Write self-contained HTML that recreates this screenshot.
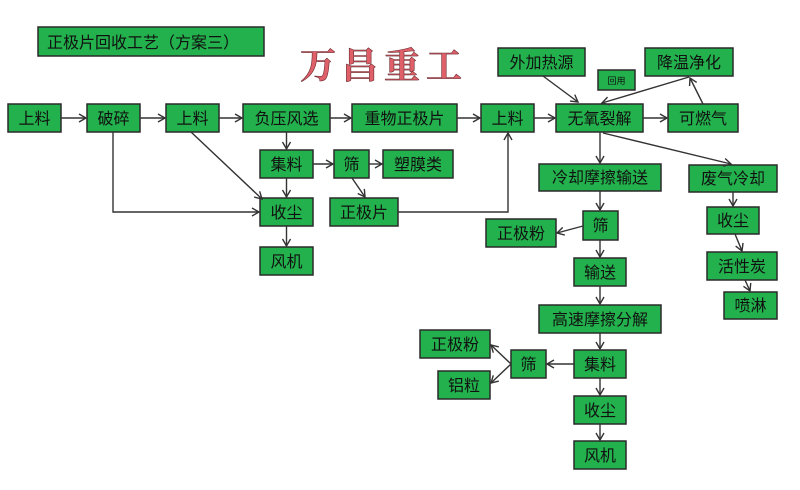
<!DOCTYPE html>
<html><head><meta charset="utf-8"><style>
html,body{margin:0;padding:0;background:#fff;}
svg{display:block;}
text{font-family:"Liberation Sans","Noto Sans CJK SC",sans-serif;fill:#111;}
.b{fill:#22b14c;stroke:#2a2a2a;stroke-width:1.5;}
.l{stroke:#333;stroke-width:1.4;fill:none;marker-end:url(#a);}
</style></head><body>
<svg width="800" height="490" viewBox="0 0 800 490" xmlns="http://www.w3.org/2000/svg">
<defs>
<marker id="a" markerWidth="10" markerHeight="10" refX="8" refY="5" orient="auto" markerUnits="userSpaceOnUse">
<path d="M1,1 L8,5 L1,9" fill="none" stroke="#333" stroke-width="1.4"/>
</marker>
</defs>
<rect width="800" height="490" fill="#fff"/>
<rect class="b" x="38" y="27" width="226" height="29"/>
<text x="47" y="48" font-size="16">正极片回收工艺（方案三）</text>
<text x="300" y="78" font-size="36" font-weight="bold" letter-spacing="6" style="font-family:'Noto Serif CJK SC',serif;fill:#e0606a;stroke:#6a2a30;stroke-width:0.6;">万昌重工</text>

<g font-size="16" text-anchor="middle">
<rect class="b" x="8" y="104" width="53" height="28"/><text x="34.5" y="124">上料</text>
<rect class="b" x="87" y="104" width="53" height="28"/><text x="113.5" y="124">破碎</text>
<rect class="b" x="166" y="104" width="53" height="28"/><text x="192.5" y="124">上料</text>
<rect class="b" x="243" y="104" width="87" height="28"/><text x="286.5" y="124">负压风选</text>
<rect class="b" x="352" y="104" width="105" height="28"/><text x="404.5" y="124">重物正极片</text>
<rect class="b" x="260" y="150" width="53" height="28"/><text x="286.5" y="170">集料</text>
<rect class="b" x="334" y="150" width="35" height="28"/><text x="351.5" y="170">筛</text>
<rect class="b" x="383" y="150" width="70" height="28"/><text x="418" y="170">塑膜类</text>
<rect class="b" x="260" y="198" width="53" height="28"/><text x="286.5" y="218">收尘</text>
<rect class="b" x="330" y="198" width="68" height="28"/><text x="364" y="218">正极片</text>
<rect class="b" x="260" y="247" width="53" height="28"/><text x="286.5" y="267">风机</text>

<rect class="b" x="498" y="48" width="87" height="28"/><text x="541.5" y="68">外加热源</text>
<rect class="b" x="598" y="70" width="37" height="20"/><text x="616.5" y="84" font-size="9">回用</text>
<rect class="b" x="645" y="48" width="88" height="28"/><text x="689" y="68">降温净化</text>
<rect class="b" x="481" y="104" width="53" height="28"/><text x="507.5" y="124">上料</text>
<rect class="b" x="556" y="104" width="87" height="28"/><text x="599.5" y="124">无氧裂解</text>
<rect class="b" x="668" y="104" width="70" height="28"/><text x="703" y="124">可燃气</text>
<rect class="b" x="539" y="164" width="122" height="27"/><text x="600" y="183">冷却摩擦输送</text>
<rect class="b" x="689" y="165" width="88" height="27"/><text x="733" y="184">废气冷却</text>
<rect class="b" x="583" y="211" width="35" height="29"/><text x="600.5" y="231">筛</text>
<rect class="b" x="486" y="219" width="70" height="28"/><text x="521" y="239">正极粉</text>
<rect class="b" x="707" y="207" width="52" height="27"/><text x="733" y="226">收尘</text>
<rect class="b" x="574" y="258" width="52" height="28"/><text x="600" y="278">输送</text>
<rect class="b" x="707" y="252" width="70" height="28"/><text x="742" y="272">活性炭</text>
<rect class="b" x="724" y="292" width="53" height="27"/><text x="750.5" y="311">喷淋</text>
<rect class="b" x="539" y="305" width="122" height="28"/><text x="600" y="325">高速摩擦分解</text>
<rect class="b" x="420" y="330" width="70" height="28"/><text x="455" y="350">正极粉</text>
<rect class="b" x="438" y="371" width="52" height="28"/><text x="464" y="391">铝粒</text>
<rect class="b" x="511" y="350" width="35" height="28"/><text x="528.5" y="370">筛</text>
<rect class="b" x="574" y="350" width="52" height="28"/><text x="600" y="370">集料</text>
<rect class="b" x="574" y="396" width="52" height="28"/><text x="600" y="416">收尘</text>
<rect class="b" x="574" y="441" width="52" height="28"/><text x="600" y="461">风机</text>
</g>

<line class="l" x1="61" y1="118" x2="86" y2="118"/>
<line class="l" x1="140" y1="118" x2="165" y2="118"/>
<line class="l" x1="219" y1="118" x2="242" y2="118"/>
<line class="l" x1="330" y1="118" x2="351" y2="118"/>
<line class="l" x1="457" y1="118" x2="480" y2="118"/>
<line class="l" x1="534" y1="118" x2="555" y2="118"/>
<line class="l" x1="643" y1="118" x2="667" y2="118"/>
<line class="l" x1="286.5" y1="132" x2="286.5" y2="149"/>
<line class="l" x1="286.5" y1="178" x2="286.5" y2="197"/>
<line class="l" x1="286.5" y1="226" x2="286.5" y2="246"/>
<line class="l" x1="313" y1="164" x2="333" y2="164"/>
<line class="l" x1="369" y1="164" x2="382" y2="164"/>
<line class="l" x1="352" y1="178" x2="365" y2="197"/>
<polyline class="l" points="113,132 113,212 259,212"/>
<line class="l" x1="191" y1="132" x2="262" y2="199"/>
<polyline class="l" points="398,212 508,212 508,133"/>
<line class="l" x1="543" y1="76" x2="578" y2="102"/>
<line class="l" x1="689" y1="77" x2="602" y2="103"/>
<line class="l" x1="703" y1="104" x2="690" y2="78"/>
<line class="l" x1="600" y1="132" x2="600" y2="163"/>
<line class="l" x1="603" y1="133" x2="731" y2="164"/>
<line class="l" x1="600" y1="191" x2="600" y2="210"/>
<line class="l" x1="583" y1="226" x2="557" y2="233"/>
<line class="l" x1="600" y1="240" x2="600" y2="257"/>
<line class="l" x1="600" y1="286" x2="600" y2="304"/>
<line class="l" x1="600" y1="333" x2="600" y2="349"/>
<line class="l" x1="574" y1="364" x2="547" y2="364"/>
<line class="l" x1="511" y1="364" x2="491" y2="345"/>
<line class="l" x1="511" y1="364" x2="491" y2="383"/>
<line class="l" x1="600" y1="378" x2="600" y2="395"/>
<line class="l" x1="600" y1="424" x2="600" y2="440"/>
<line class="l" x1="733" y1="192" x2="733" y2="206"/>
<line class="l" x1="735" y1="234" x2="742" y2="251"/>
<line class="l" x1="745" y1="280" x2="750" y2="291"/>
</svg>
</body></html>
